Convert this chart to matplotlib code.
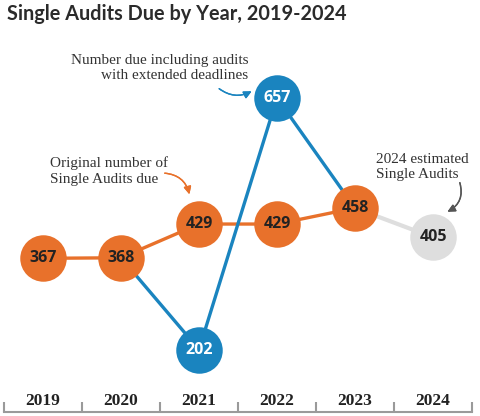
import matplotlib
matplotlib.use("Agg")
import matplotlib.pyplot as plt

# ---- data ----
years = ["2019", "2020", "2021", "2022", "2023", "2024"]
original_x = [0, 1, 2, 3, 4]
original = [367, 368, 429, 429, 458]
extended_x = [1, 2, 3, 4]
extended = [368, 202, 657, 458]
extended_marker_x = [2, 3]
extended_marker = [202, 657]
estimate_x = [4, 5]
estimate = [458, 405]

ORANGE = "#E8712B"
BLUE = "#1A84BF"
GRAY = "#DEDEDE"
W, H = 480, 416

fig = plt.figure(figsize=(W / 100, H / 100), dpi=100)
ax = fig.add_axes([4 / W, 4 / H, 468 / W, 382 / H])
ax.set_xlim(-0.5, 5.5)
ax.set_ylim(89, 780)
for s in ["top", "right", "left"]:
    ax.spines[s].set_visible(False)
ax.spines["bottom"].set_color("#9a9a9a")
ax.spines["bottom"].set_linewidth(1.5)
ax.set_yticks([])
ax.set_xticks([i - 0.5 for i in range(7)])
ax.set_xticklabels([])
ax.tick_params(axis="x", direction="in", length=7, width=1.5, color="#9a9a9a")
for i, y in enumerate(years):
    ax.text(i, 0.028, y, transform=ax.get_xaxis_transform(), ha="center", va="center",
            fontsize=12.5, fontweight="bold", family="Liberation Serif", color="#222222")

S = 1120
ax.plot(original_x, original, color=ORANGE, lw=2.4, zorder=1)
ax.plot(estimate_x, estimate, color=GRAY, lw=3, zorder=1)
ax.plot(extended_x, extended, color=BLUE, lw=2.4, zorder=2)
ax.scatter(estimate_x[1:], estimate[1:], s=S, color=GRAY, zorder=3, linewidths=0)
ax.scatter(extended_marker_x, extended_marker, s=S, color=BLUE, zorder=3, linewidths=0)
ax.scatter(original_x, original, s=S, color=ORANGE, zorder=3, linewidths=0)

lab_kw = dict(ha="center", va="center", fontsize=11.5, fontweight="bold",
              family="Open Sans", zorder=4)
for x, v in zip(original_x, original):
    ax.text(x, v, str(v), color="#222222", **lab_kw)
for x, v in zip(extended_marker_x, extended_marker):
    ax.text(x, v, str(v), color="white", **lab_kw)
for x, v in zip(estimate_x[1:], estimate[1:]):
    ax.text(x, v, str(v), color="#222222", **lab_kw)

fig.text(7 / W, 1 - 14 / H, "Single Audits Due by Year, 2019-2024", ha="left", va="center",
         fontsize=14.3, fontweight="bold", family="Lato", color="#2b2b2b")

def fp(x, y):
    return (x / W, 1 - y / H)

note_kw = dict(fontsize=11, family="Liberation Serif", color="#333333",
               linespacing=1.25)
fig.text(248 / W, 1 - 68 / H, "Number due including audits\nwith extended deadlines",
         ha="right", va="center", **note_kw)
fig.text(50 / W, 1 - 171 / H, "Original number of\nSingle Audits due",
         ha="left", va="center", **note_kw)
fig.text(376 / W, 1 - 167 / H, "2024 estimated\nSingle Audits",
         ha="left", va="center", **note_kw)

arr = dict(arrowstyle="-|>,head_length=0.45,head_width=0.22", lw=1.0)
fig.add_artist(plt.annotate("", xy=fp(254, 90), xytext=fp(217, 87), xycoords="figure fraction",
                            arrowprops=dict(color=BLUE, connectionstyle="arc3,rad=0.35", **arr)))
fig.add_artist(plt.annotate("", xy=fp(190, 197), xytext=fp(162, 173), xycoords="figure fraction",
                            arrowprops=dict(color=ORANGE, connectionstyle="arc3,rad=-0.4", **arr)))
fig.add_artist(plt.annotate("", xy=fp(445, 213), xytext=fp(459, 180), xycoords="figure fraction",
                            arrowprops=dict(color="#555555", connectionstyle="arc3,rad=-0.45", **arr)))

fig.savefig("out.png", dpi=100)
